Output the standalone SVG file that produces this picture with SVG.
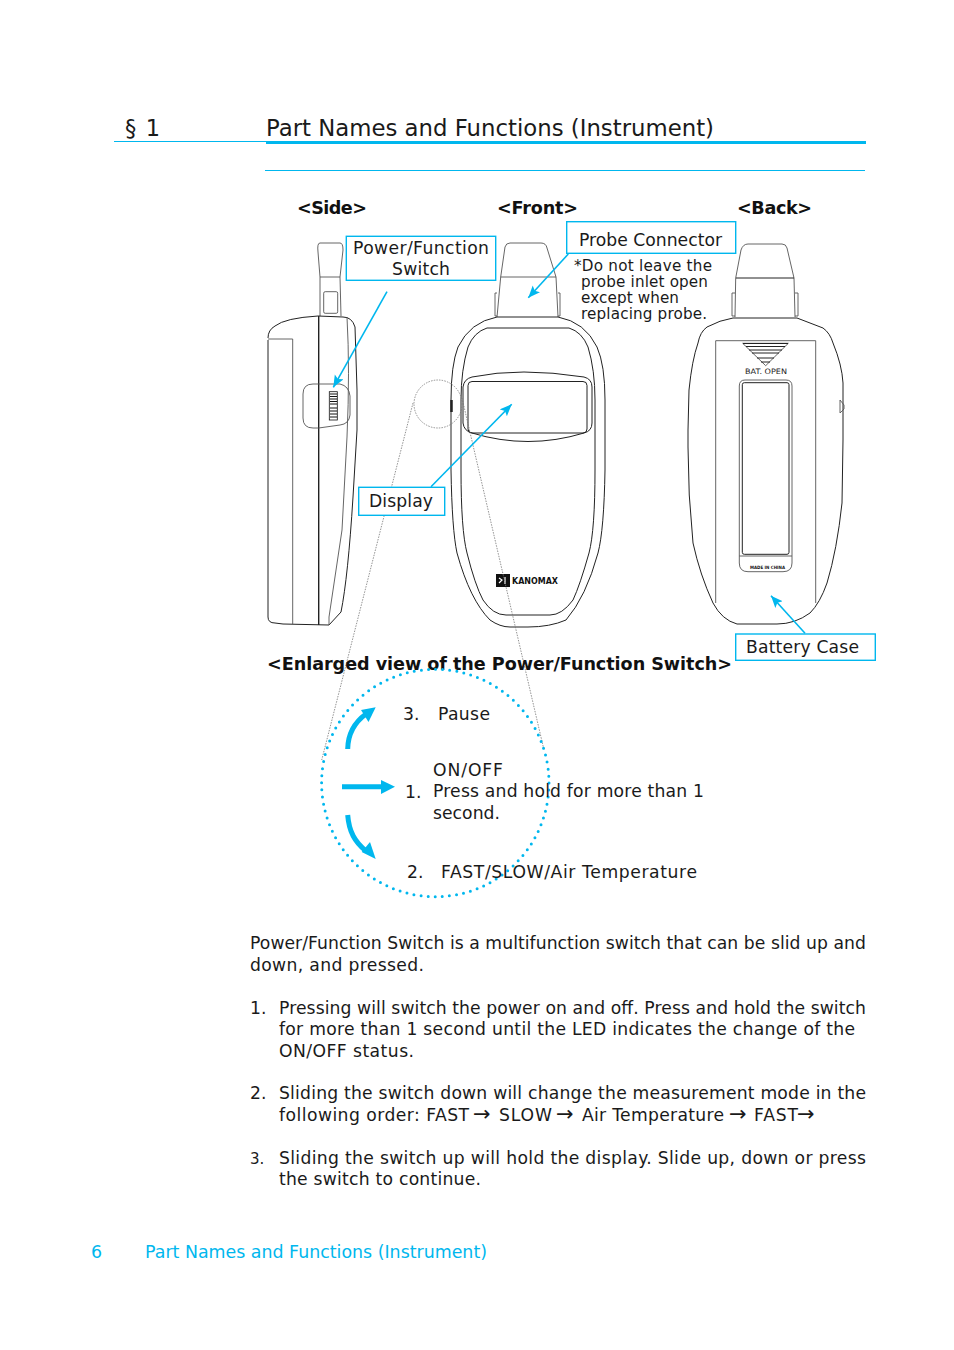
<svg xmlns="http://www.w3.org/2000/svg" width="954" height="1350" viewBox="0 0 954 1350">
<style>
text{font-family:"DejaVu Sans",sans-serif;fill:#1a1a1a}
.b{font-size:17.2px}
.h{font-size:17.6px;font-weight:bold;fill:#111}
.n{font-size:15.2px}
.f{font-size:17.4px;fill:#00b7ee}
.ar{font-size:21px}
.l{fill:none;stroke:#555;stroke-width:.9}
.k{fill:none;stroke:#222;stroke-width:1}
.box{fill:#fff;stroke:#00b7ee;stroke-width:1.4}
.c{stroke:#00b7ee;stroke-width:1.6;fill:none;marker-end:url(#a)}
.t{stroke:#00b7ee;stroke-width:5;fill:none}
.g{fill:none;stroke:#777;stroke-width:.8;stroke-dasharray:1.5 1.2}
.tp{fill:#00b7ee}
</style>
<defs>
<marker id="a" markerUnits="userSpaceOnUse" markerWidth="14" markerHeight="12" refX="12" refY="5" orient="auto"><path d="M0 0L12 5L0 10L2.5 5Z" fill="#00b7ee"/></marker>
</defs>
<rect width="954" height="1350" fill="#fff"/>
<g id="header">
<text x="125" y="136" style="font-size:22.5px" textLength="35">§ 1</text>
<text x="266" y="136" style="font-size:22.8px" textLength="448">Part Names and Functions (Instrument)</text>
<rect x="114" y="141" width="152" height="1" fill="#00b7ee"/>
<rect x="266" y="141" width="600" height="3" fill="#00b7ee"/>
<rect x="265" y="170" width="600" height="1" fill="#00b7ee"/>
</g>
<g id="views">
<text class="h" x="297" y="214" textLength="70">&lt;Side&gt;</text>
<text class="h" x="497" y="214" textLength="81">&lt;Front&gt;</text>
<text class="h" x="737" y="214" textLength="75">&lt;Back&gt;</text>
</g>
<g id="device-side">
<path class="l" d="M320 277L318 252Q317 243 320 243L340 243Q343 243 343 250L340 277L341 316M320 277L320 316M320 277H340"/>
<rect class="l" x="323.700" y="291.700" width="14" height="21.600" rx="1.500"/>
<path class="k" d="M268 340V617Q268 623 275 623L283 624L329 625L341 612Q348 577 353 497L357 430V390L355 327Q352 317 343 317L318 316Q285 318 275 326Q268 330 268 338"/>
<path class="l" d="M268 339H292.700V624M347 317Q350 370 347 437L342 530L329 617V625"/>
<path class="k" d="M318.700 316V625" style="stroke-width:1.400"/>
<path class="l" d="M318.700 384H340Q349 386 350 396V415Q349 424 340 425L318.700 428H313Q303 428 303 418V394Q303 384 313 384H319"/>
<rect x="329.300" y="391.700" width="8" height="28.300" fill="#fff" stroke="#111" stroke-width=".8"/>
<path d="M330 394H337M330 396.500H337M330 399H337M330 401.500H337M330 404H337M330 408H337M330 411H337M330 414H337M330 417H337" stroke="#111" stroke-width="1"/>
</g>
<g id="device-front">
<path class="l" d="M497 317L500.700 277L505 247Q506 243 510 243H541Q546 243 547 248L556 277L558 317M500.700 277H556"/>
<path class="l" d="M497 293H495V316H497M558 293H560V316H558"/>
<path class="k" d="M497 317H558Q585 322 597 347Q605 365 605 400V470Q604 530 598 553Q586 597 566 620Q550 627 528 627H510Q500 627 490 620Q470 600 457 553Q452 530 451 470V400Q451 365 458 347Q470 322 497 317Z"/>
<path class="k" d="M487 328H569Q582 332 588 347Q595 370 595 400V470Q595 530 589 553Q580 585 573 600Q562 615 550 615H506Q493 615 483 600Q475 585 467 553Q461 530 461 470V400Q461 370 468 347Q474 332 487 328Z"/>
<path class="k" d="M463 387Q464 379 472 377Q520 367 584 377Q592 379 592 387V423Q592 431 584 433Q528 450 472 433Q464 431 463 423Z"/>
<rect class="k" x="468" y="381.500" width="119" height="51.500" rx="4"/>
<path d="M451.500 400V412" stroke="#222" stroke-width="2.500"/>
<rect x="496" y="574" width="14" height="13" fill="#111"/>
<path d="M499 578L502 580L499 583M505 577V584" stroke="#fff" stroke-width="1.200" fill="none"/>
<text x="512" y="584" style="font-size:9.500px;font-weight:bold;fill:#111" textLength="46" lengthAdjust="spacingAndGlyphs">KANOMAX</text>
</g>
<g id="device-back">
<path class="l" d="M735.700 278L741 250Q743 244 748 244H782Q786 244 787 248L794 278L795 317M735.700 278L735 317"/>
<path class="k" d="M736 278H794"/>
<path class="l" d="M735 293H732V316H735M795 293H798V316H795"/>
<path class="k" d="M733 318H797L823 328Q830 333 833 343Q842 365 843 383V440L842 503Q837 550 827 583Q820 603 810 613Q795 624 777 624H737Q722 620 713 603Q700 575 693 543Q688 495 688 447V430L689 390Q692 360 698 343Q700 332 707 327Q720 320 733 318Z"/>
<path class="l" d="M715.700 603V340.700H815.700V603"/>
<path class="l" d="M742.700 343.300H788.300L765.700 365.700Z"/>
<path class="k" d="M743 343.500H788M746 346.500H785M749 350H782M752 353H779M757 358H774M761 362H770"/>
<text x="745" y="374" style="font-size:7.500px;fill:#222" textLength="42" lengthAdjust="spacingAndGlyphs">BAT. OPEN</text>
<path class="l" d="M739.300 556V386Q739.300 380 745 380H786Q792 380 792 386V563Q792 571.700 783 571.700H748Q739.300 571.700 739.300 563V556H792"/>
<rect class="k" x="742.300" y="382.700" width="46.700" height="171.600" rx="2"/>
<text x="750" y="569" style="font-size:4.500px;font-weight:bold;fill:#111" textLength="35" lengthAdjust="spacingAndGlyphs">MADE IN CHINA</text>
<path class="l" d="M840 400L844 405V409L840 413Z"/>
</g>
<g id="zoom-guide">
<circle class="g" cx="438" cy="404" r="24"/>
<path class="g" d="M413 403L321.700 760M462 398L544 750"/>
</g>
<g id="connectors">
<path class="c" d="M387 291.700L333.300 387.300"/>
<path class="c" d="M568.300 254L528.300 297.700"/>
<path class="c" d="M431 486.700L511.700 404.300"/>
<path class="c" d="M805 633.300L771 595.700"/>
<path class="t" d="M342 786.700H382"/>
<polygon class="tp" points="395,786.700 381,780 381,794"/>
<path class="t" d="M347.700 749C348 733 355 722 366 714"/>
<polygon class="tp" points="375.700,707.300 361,710 368.500,722"/>
<path class="t" d="M347.700 815C349 832 355 842 366 851"/>
<polygon class="tp" points="375.700,859 361.700,852 370,842"/>
</g>
<g id="label-power"><rect class="box" x="346.300" y="236.300" width="149.400" height="44"/>
<text class="b" x="353" y="254" textLength="136">Power/Function</text><text class="b" x="392" y="275" textLength="58">Switch</text></g>
<g id="label-probe"><rect class="box" x="566.700" y="221.700" width="169" height="31.600"/>
<text class="b" x="579" y="246" textLength="143">Probe Connector</text></g>
<g id="probe-note">
<text class="n" x="574" y="271" textLength="138">*Do not leave the</text>
<text class="n" x="581" y="287" textLength="127">probe inlet open</text>
<text class="n" x="581" y="303" textLength="98">except when</text>
<text class="n" x="581" y="319" textLength="126">replacing probe.</text>
</g>
<g id="label-display"><rect class="box" x="358.700" y="487.300" width="86" height="28"/>
<text class="b" x="369" y="507" textLength="64">Display</text></g>
<g id="label-battery"><rect class="box" x="735.700" y="634" width="139.600" height="26.300"/>
<text class="b" x="746" y="653" textLength="113">Battery Case</text></g>
<g id="enlarged">
<text class="h" x="267" y="670" textLength="465">&lt;Enlarged view of the Power/Function Switch&gt;</text>
<circle cx="435.300" cy="783" r="113.700" fill="none" stroke="#00b7ee" stroke-width="3" stroke-linecap="round" stroke-dasharray="0 7.140"/>
<text class="b" x="403" y="720">3.</text><text class="b" x="438" y="720" textLength="52">Pause</text>
<text class="b" x="433" y="776" textLength="70">ON/OFF</text>
<text class="b" x="405" y="798">1.</text><text class="b" x="433" y="797" textLength="271">Press and hold for more than 1</text>
<text class="b" x="433" y="819" textLength="67">second.</text>
<text class="b" x="407" y="878">2.</text><text class="b" x="441" y="878" textLength="256">FAST/SLOW/Air Temperature</text>
</g>
<g id="body">
<text class="b" x="250" y="949" textLength="616">Power/Function Switch is a multifunction switch that can be slid up and</text>
<text class="b" x="250" y="971" textLength="174">down, and pressed.</text>
<text class="b" x="250" y="1014">1.</text><text class="b" x="279" y="1014" textLength="587">Pressing will switch the power on and off. Press and hold the switch</text>
<text class="b" x="279" y="1035" textLength="576">for more than 1 second until the LED indicates the change of the</text>
<text class="b" x="279" y="1057" textLength="135">ON/OFF status.</text>
<text class="b" x="250" y="1099">2.</text><text class="b" x="279" y="1099" textLength="587">Sliding the switch down will change the measurement mode in the</text>
<text class="b" x="279" y="1121" textLength="190">following order: FAST</text><text class="ar" x="473" y="1121">→</text><text class="b" x="499" y="1121" textLength="53">SLOW</text><text class="ar" x="556" y="1121">→</text><text class="b" x="582" y="1121" textLength="142">Air Temperature</text><text class="ar" x="729" y="1121">→</text><text class="b" x="754" y="1121" textLength="44">FAST</text><text class="ar" x="797" y="1121">→</text>
<text x="250" y="1164" style="font-size:15px">3.</text><text class="b" x="279" y="1164" textLength="587">Sliding the switch up will hold the display. Slide up, down or press</text>
<text class="b" x="279" y="1185" textLength="202">the switch to continue.</text>
</g>
<g id="footer">
<text class="f" x="91" y="1258">6</text>
<text class="f" x="145" y="1258" textLength="342">Part Names and Functions (Instrument)</text>
</g>
</svg>
